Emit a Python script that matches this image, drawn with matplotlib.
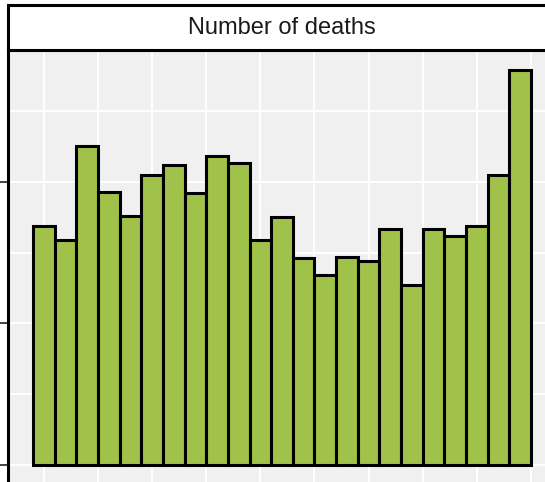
import matplotlib
matplotlib.use("Agg")
import matplotlib.pyplot as plt
from matplotlib.patches import Rectangle

plt.rcParams['font.family'] = ['Liberation Sans', 'DejaVu Sans']

# bar positions (bins) and heights
bins = list(range(1, 24))
deaths = [16.9, 15.9, 22.5, 19.3, 17.6, 20.5, 21.2, 19.2, 21.8, 21.3, 15.9, 17.5,
          14.6, 13.4, 14.7, 14.4, 16.7, 12.7, 16.7, 16.2, 16.9, 20.5, 27.9]
panel_title = "Number of deaths"

W, H = 545, 482
fig = plt.figure(figsize=(W / 100, H / 100), dpi=100)

# panel extends past the right and bottom edge (cropped like the reference)
left, right, top, bottom = 8, 556, 50, 485
ax = fig.add_axes([left / W, (H - bottom) / H, (right - left) / W, (bottom - top) / H])
ax.set_facecolor('#F0F0F0')

ax.bar(bins, deaths, width=1.0, color='#A0C24A', edgecolor='black', linewidth=2.2, zorder=3)

ymax = max(deaths)
ax.set_ylim(-0.05 * ymax, 1.05 * ymax)
span = bins[-1] - bins[0] + 1
ax.set_xlim(bins[0] - 0.5 - 0.05 * span, bins[-1] + 0.5 + 0.05 * span)

ax.set_yticks([0, 10, 20])
ax.set_yticks([5, 15, 25], minor=True)
ax.set_xticks([1, 6, 11, 16, 21])
ax.set_xticks([3.5, 8.5, 13.5, 18.5, 23.5], minor=True)
ax.set_yticklabels([])
ax.set_xticklabels([])

ax.grid(True, which='both', color='white', linewidth=1.4, zorder=0)
ax.set_axisbelow(True)
ax.tick_params(axis='y', which='major', length=7, width=1.3, color='#333333')
ax.tick_params(axis='y', which='minor', length=0)
ax.tick_params(axis='x', which='both', length=0)

for s in ax.spines.values():
    s.set_color('black')
    s.set_linewidth(2.2)

# facet strip
strip = Rectangle((left / W, (H - top) / H), (right - left) / W, (top - 5) / H,
                  transform=fig.transFigure, facecolor='white', edgecolor='black',
                  linewidth=2.2, clip_on=False)
fig.patches.append(strip)
fig.text((left + right) / 2 / W, (H - 28) / H, panel_title, ha='center', va='center',
         fontsize=17, color='#1A1A1A')

fig.savefig('out.png', dpi=100)
